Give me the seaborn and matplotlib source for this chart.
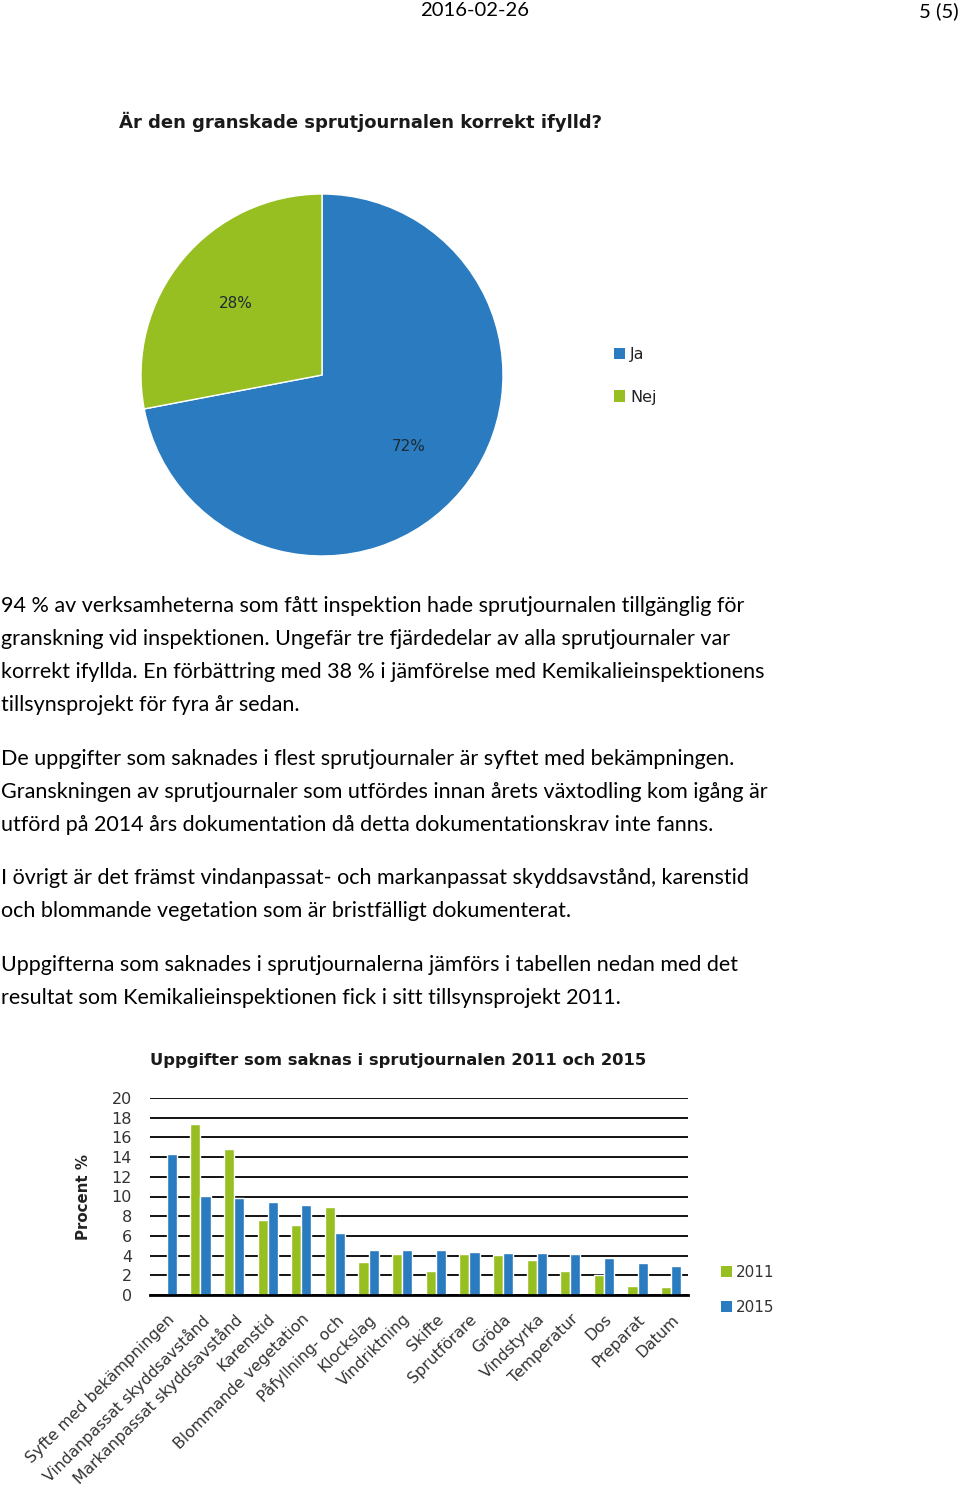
import matplotlib
matplotlib.use("Agg")
import matplotlib.pyplot as plt
import seaborn as sns
import pandas as pd
from matplotlib.patches import Patch

# ---------------- data ----------------
pie_labels = ["Ja", "Nej"]
pie_values = [72, 28]

categories = [
    "Syfte med bekämpningen", "Vindanpassat skyddsavstånd", "Markanpassat skyddsavstånd",
    "Karenstid", "Blommande vegetation", "Påfyllning- och", "Klockslag", "Vindriktning",
    "Skifte", "Sprutförare", "Gröda", "Vindstyrka", "Temperatur", "Dos", "Preparat", "Datum",
]
values_2011 = [0, 17.4, 14.8, 7.6, 7.1, 8.9, 3.3, 4.2, 2.4, 4.2, 4.1, 3.6, 2.4, 2.0, 0.9, 0.8]
values_2015 = [14.3, 10.1, 9.8, 9.4, 9.1, 6.3, 4.6, 4.6, 4.6, 4.4, 4.3, 4.3, 4.2, 3.8, 3.2, 2.9]
years = ["2011", "2015"]
y_ticks = list(range(0, 21, 2))

header_date = "2016-02-26"
header_page = "5 (5)"
pie_title = "Är den granskade sprutjournalen korrekt ifylld?"
bar_title = "Uppgifter som saknas i sprutjournalen 2011 och 2015"
y_label = "Procent %"

paragraphs = [
    ["94 % av verksamheterna som fått inspektion hade sprutjournalen tillgänglig för",
     "granskning vid inspektionen. Ungefär tre fjärdedelar av alla sprutjournaler var",
     "korrekt ifyllda. En förbättring med 38 % i jämförelse med Kemikalieinspektionens",
     "tillsynsprojekt för fyra år sedan."],
    ["De uppgifter som saknades i flest sprutjournaler är syftet med bekämpningen.",
     "Granskningen av sprutjournaler som utfördes innan årets växtodling kom igång är",
     "utförd på 2014 års dokumentation då detta dokumentationskrav inte fanns."],
    ["I övrigt är det främst vindanpassat- och markanpassat skyddsavstånd, karenstid",
     "och blommande vegetation som är bristfälligt dokumenterat."],
    ["Uppgifterna som saknades i sprutjournalerna jämförs i tabellen nedan med det",
     "resultat som Kemikalieinspektionen fick i sitt tillsynsprojekt 2011."],
]

# ---------------- style ----------------
sns.set_theme(style="white")
plt.rcParams['font.family'] = ['DejaVu Sans']

BLUE = '#2A7BBF'
GREEN = '#97BF22'
BODY_FONT = 'Lato'
BODY_SIZE = 15.5

W, H = 960, 1489
fig = plt.figure(figsize=(9.6, 14.89), dpi=100)
fig.patch.set_facecolor('white')


def fx(px):
    return px / W


def fy(py):
    return 1 - py / H


# ---------------- header ----------------
fig.text(fx(475), fy(11), header_date, ha='center', va='center',
         fontsize=14.6, family=BODY_FONT, color='black')
fig.text(fx(959), fy(11), header_page, ha='right', va='center',
         fontsize=14.6, family=BODY_FONT, color='black')

# ---------------- pie chart ----------------
fig.text(fx(119), fy(122), pie_title, ha='left', va='center',
         fontsize=13.0, weight='bold', color='#1a1a1a')

ax_pie = fig.add_axes([fx(141), fy(556), 362 / W, 362 / H])
wedges, _, autotexts = ax_pie.pie(
    pie_values, colors=[BLUE, GREEN], startangle=90, counterclock=False,
    autopct='%d%%', pctdistance=0.62,
    wedgeprops=dict(linewidth=1.0, edgecolor='white'),
    textprops=dict(fontsize=11, color='#1c2a33'))
ax_pie.set_xlim(-1.0, 1.0)
ax_pie.set_ylim(-1.0, 1.0)
ax_pie.set_aspect('equal')
ax_pie.axis('off')

pie_handles = [Patch(facecolor=c, edgecolor='none') for c in [BLUE, GREEN]]
fig.legend(pie_handles, pie_labels, loc='center left',
           bbox_to_anchor=(fx(614), fy(376)), frameon=False,
           fontsize=11.5, handlelength=0.7, handleheight=0.7,
           handletextpad=0.3, labelspacing=1.7, borderpad=0, borderaxespad=0,
           labelcolor='#222222')

# ---------------- body text ----------------
para_starts = [606, 759, 878, 965]
line_step = 33
for start, lines in zip(para_starts, paragraphs):
    for i, line in enumerate(lines):
        fig.text(fx(1), fy(start + i * line_step), line, ha='left', va='center',
                 fontsize=BODY_SIZE, family=BODY_FONT, color='black')

# ---------------- bar chart ----------------
fig.text(fx(150), fy(1061), bar_title, ha='left', va='center',
         fontsize=11.8, weight='bold', color='#1a1a1a')

df = pd.DataFrame({
    'Uppgift': categories * 2,
    'Procent': values_2011 + values_2015,
    'År': [years[0]] * len(categories) + [years[1]] * len(categories),
})

ax_bar = fig.add_axes([fx(150), fy(1295), 538 / W, 197 / H])
sns.barplot(data=df, x='Uppgift', y='Procent', hue='År', hue_order=years,
            palette={years[0]: GREEN, years[1]: BLUE}, width=0.6, gap=0,
            saturation=1, legend=False, ax=ax_bar, errorbar=None)
ax_bar.set_ylim(0, 20)
ax_bar.set_yticks(y_ticks)
ax_bar.set_yticklabels([str(t) for t in y_ticks], fontsize=11.5, color='#333333')
ax_bar.set_xlim(-0.5, len(categories) - 0.5)
ax_bar.yaxis.grid(True, color='black', linewidth=1.3)
ax_bar.xaxis.grid(False)
ax_bar.set_axisbelow(True)
for side in ['left', 'right', 'top']:
    ax_bar.spines[side].set_visible(False)
ax_bar.spines['bottom'].set_color('black')
ax_bar.spines['bottom'].set_linewidth(2)
ax_bar.tick_params(axis='y', length=0, pad=13)
ax_bar.tick_params(axis='x', length=0, pad=12)
ax_bar.set_xlabel('')
ax_bar.set_ylabel(y_label, fontsize=10.8, weight='bold', color='#222222')
ax_bar.yaxis.set_label_coords(-0.11, 0.5)
for lab in ax_bar.get_xticklabels():
    lab.set_rotation(45)
    lab.set_ha('right')
    lab.set_rotation_mode('anchor')
    lab.set_fontsize(11.3)
    lab.set_color('#333333')

bar_handles = [Patch(facecolor=c, edgecolor='none') for c in [GREEN, BLUE]]
fig.legend(bar_handles, years, loc='center left',
           bbox_to_anchor=(fx(721), fy(1290)), frameon=False,
           fontsize=11, handlelength=0.7, handleheight=0.7,
           handletextpad=0.3, labelspacing=1.3, borderpad=0, borderaxespad=0,
           labelcolor='#333333')

fig.savefig('out.png', dpi=100, facecolor='white')
